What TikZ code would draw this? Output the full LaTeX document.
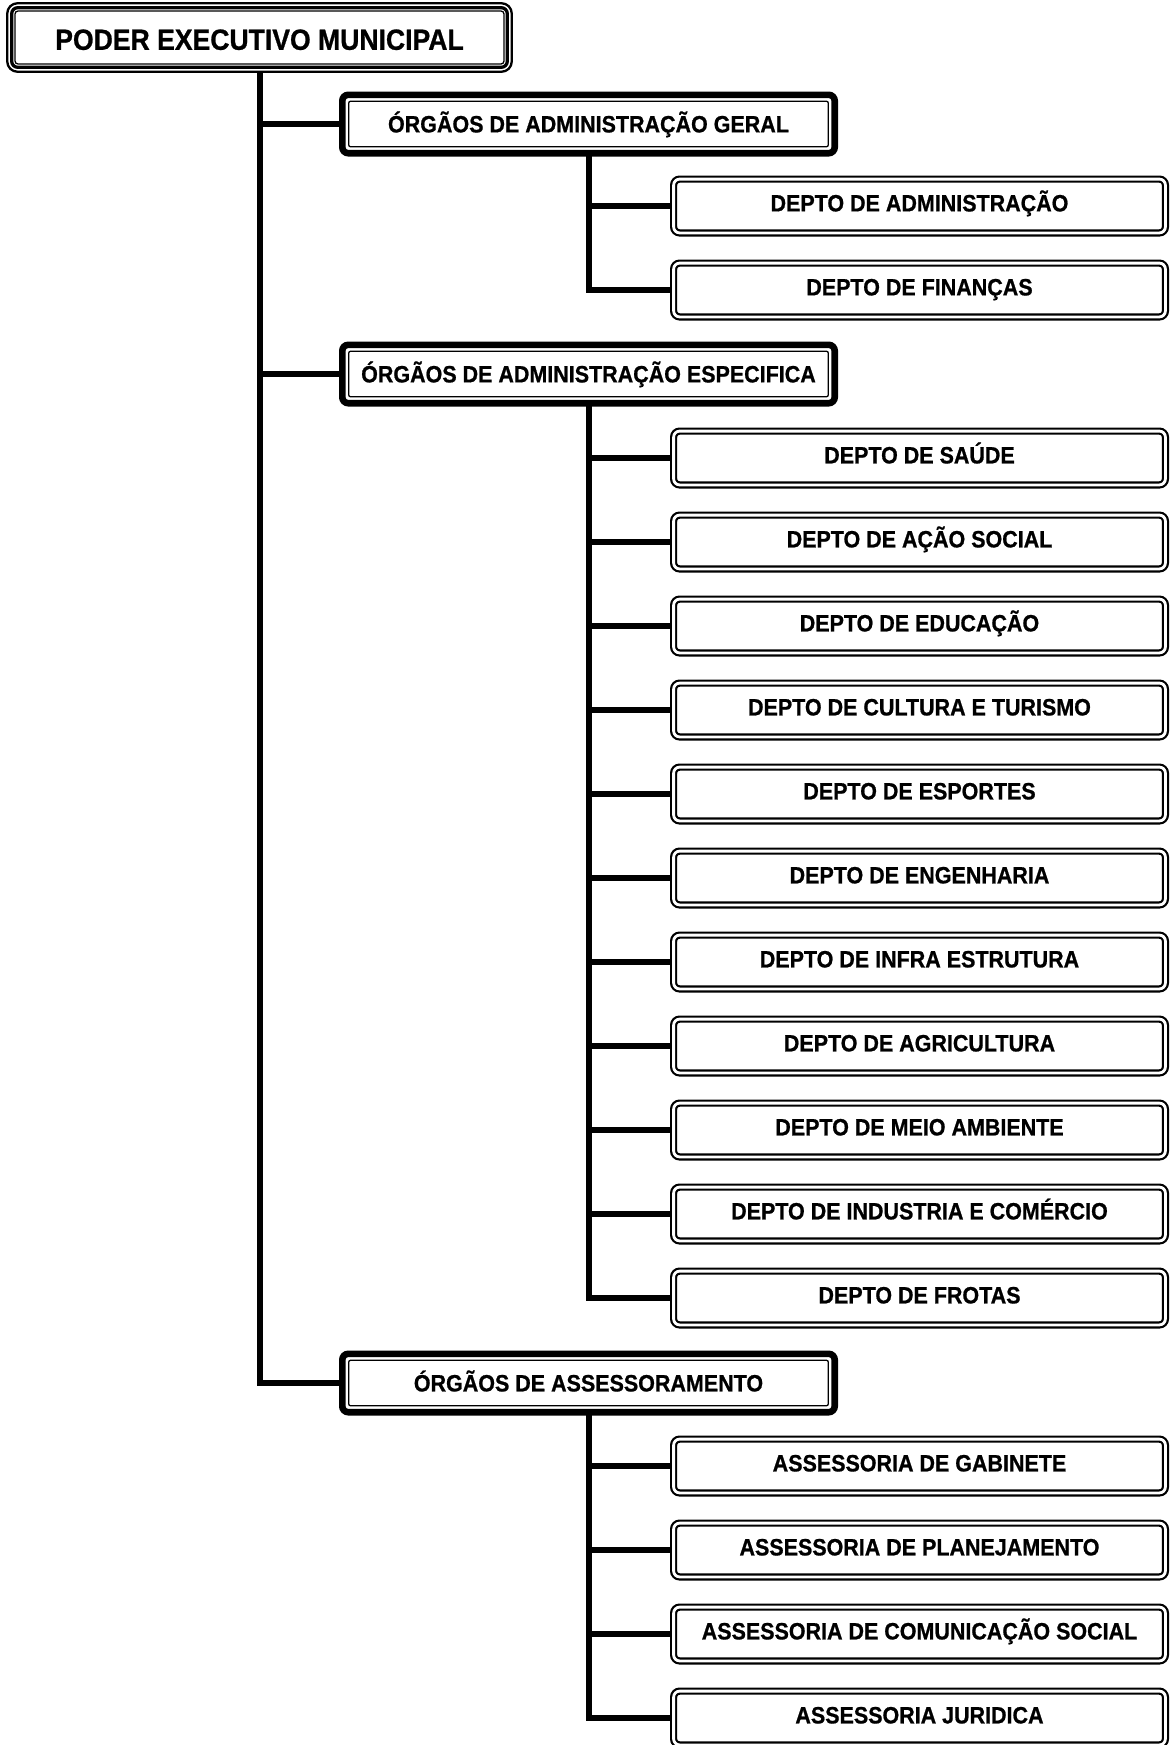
\documentclass[tikz,border=0pt]{standalone}
\usepackage{fontspec}
\setmainfont[FakeStretch=0.91, BoldFeatures={FakeBold=0.8}]{Liberation Sans}
\usepackage{tikz}
\usetikzlibrary{positioning,calc}
\tikzset{
  box/.style={draw, rounded corners=3pt, align=center, fill=white, inner sep=0pt},
  chefe/.style={box, line width=1.65pt, outer sep=0pt, minimum width=247.8pt, minimum height=29.8pt,
    text height=12.3pt, text depth=0pt, font=\bfseries\fontsize{14.6}{17}\selectfont},
  orgao/.style={box, line width=3.3pt, outer sep=0pt, minimum width=246.2pt, minimum height=29.2pt,
    text height=8.4pt, text depth=0pt, font=\bfseries\fontsize{11.8}{14}\selectfont},
  depto/.style={box, line width=1.1pt, double, double distance=1.4pt, outer sep=1.8pt,
    minimum width=245.9pt, minimum height=26.9pt,
    text height=8.4pt, text depth=3pt, font=\bfseries\fontsize{11.8}{14}\selectfont},
  frame/.style={draw, rounded corners=1.5pt, line width=0.65pt},
  link/.style={line width=3pt},
}

\begin{document}
\begin{tikzpicture}
  \useasboundingbox (0,0) rectangle (586.5pt,-872.5pt);

  \node[chefe] (pem) at (129.75pt,-18.75pt) {PODER EXECUTIVO MUNICIPAL};

  \node[orgao] (geral) at (294.25pt,-62pt) {ÓRGÃOS DE ADMINISTRAÇÃO GERAL};
  \node[depto] (adm) at (459.75pt,-103pt) {DEPTO DE ADMINISTRAÇÃO};
  \node[depto, below=11.5pt of adm] (fin) {DEPTO DE FINANÇAS};

  \node[orgao] (espec) at (294.25pt,-187pt) {ÓRGÃOS DE ADMINISTRAÇÃO ESPECIFICA};
  \node[depto] (saude) at (459.75pt,-229pt) {DEPTO DE SAÚDE};
  \node[depto, below=11.5pt of saude] (social) {DEPTO DE AÇÃO SOCIAL};
  \node[depto, below=11.5pt of social] (educ) {DEPTO DE EDUCAÇÃO};
  \node[depto, below=11.5pt of educ] (cult) {DEPTO DE CULTURA E TURISMO};
  \node[depto, below=11.5pt of cult] (esp) {DEPTO DE ESPORTES};
  \node[depto, below=11.5pt of esp] (eng) {DEPTO DE ENGENHARIA};
  \node[depto, below=11.5pt of eng] (infra) {DEPTO DE INFRA ESTRUTURA};
  \node[depto, below=11.5pt of infra] (agri) {DEPTO DE AGRICULTURA};
  \node[depto, below=11.5pt of agri] (meio) {DEPTO DE MEIO AMBIENTE};
  \node[depto, below=11.5pt of meio] (ind) {DEPTO DE INDUSTRIA E COMÉRCIO};
  \node[depto, below=11.5pt of ind] (frotas) {DEPTO DE FROTAS};

  \node[orgao] (assess) at (294.25pt,-691.5pt) {ÓRGÃOS DE ASSESSORAMENTO};
  \node[depto] (gab) at (459.75pt,-733pt) {ASSESSORIA DE GABINETE};
  \node[depto, below=11.5pt of gab] (plan) {ASSESSORIA DE PLANEJAMENTO};
  \node[depto, below=11.5pt of plan] (com) {ASSESSORIA DE COMUNICAÇÃO SOCIAL};
  \node[depto, below=11.5pt of com] (jur) {ASSESSORIA JURIDICA};

  \draw[frame, line width=1.15pt, rounded corners=5.25pt]
    ([shift={(-2.25pt,2.25pt)}]pem.north west) rectangle ([shift={(2.25pt,-2.25pt)}]pem.south east);
  \draw[frame] ([shift={(1.65pt,-1.65pt)}]pem.north west) rectangle ([shift={(-1.65pt,1.65pt)}]pem.south east);
  \foreach \n in {geral,espec,assess}
    \draw[frame, rounded corners=1pt]
      ([shift={(3.2pt,-3.2pt)}]\n.north west) rectangle ([shift={(-3.2pt,3.2pt)}]\n.south east);

  \coordinate (tronco) at ([yshift=-2.25pt]pem.south);
  \draw[link] (tronco) |- (geral.west);
  \draw[link] (tronco) |- (espec.west);
  \draw[link] (tronco) |- (assess.west);

  \foreach \d in {adm,fin}
    \draw[link] (geral.south) |- (\d.west);
  \foreach \d in {saude,social,educ,cult,esp,eng,infra,agri,meio,ind,frotas}
    \draw[link] (espec.south) |- (\d.west);
  \foreach \d in {gab,plan,com,jur}
    \draw[link] (assess.south) |- (\d.west);
\end{tikzpicture}
\end{document}
